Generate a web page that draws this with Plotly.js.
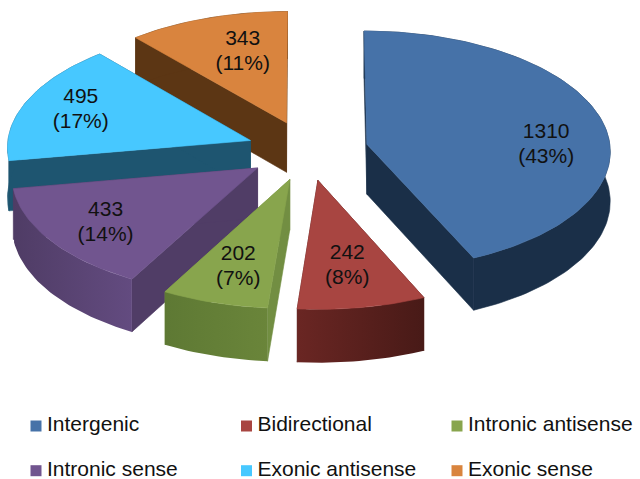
<!DOCTYPE html>
<html>
<head>
<meta charset="utf-8">
<script src="https://cdn.plot.ly/plotly-3.0.1.min.js"></script>
<style>html,body{margin:0;padding:0;background:#fff}#chart{width:640px;height:479px}</style>
</head>
<body>
<div id="chart"></div>
<script>
// Transcript classes and their counts
const categories = ['Intergenic', 'Bidirectional', 'Intronic antisense', 'Intronic sense', 'Exonic antisense', 'Exonic sense'];
const counts = [1310, 242, 202, 433, 495, 343];
const percents = [43, 8, 7, 14, 17, 11];

// Face colours of each slice
const topColors = ['#4672A8', '#A84541', '#88A54D', '#71558F', '#47C8FF', '#D9843E'];
const radialColors = ['#1A2F48', '#4F1C19', '#728E42', '#503D66', '#1E5570', '#5C3614'];
const arcLeftColors = ['#1A2F48', '#6A2623', '#5E7934', '#4F3C65', '#1E5570', '#5C3614'];
const arcRightColors = ['#1A2F48', '#481A17', '#6A853A', '#634B80', '#1E5570', '#5C3614'];

// Back-to-front painting order (slice indices)
const paintOrder = [5, 0, 4, 3, 2, 1];

// Tilted-disc projection, in plot units
const view = {cx: 307.5, cy: 150.5, rx: 243.5, ry: 119.5, depth: 50, persp: 0.05, explode: 0.25, labelAt: 0.72, labelLine: 12.5};
// Hand placement of the value labels along each slice
const labelShift = [[10, 19], [-2, -4], [2, 0], [-4, 3], [-8, -1.5], [14, 6]];

function project(X, Y, z) {
  const w = 1 / (1 + view.persp * Y);
  return [view.cx + view.rx * X * w, view.cy - view.ry * Y * w + view.depth * z * w];
}

const total = counts.reduce((a, b) => a + b, 0);
let running = 0;
const slices = counts.map(v => {
  const start = running / total * 2 * Math.PI;
  running += v;
  const end = running / total * 2 * Math.PI;
  const mid = (start + end) / 2;
  return {start, end, mid, ax: view.explode * Math.sin(mid), ay: view.explode * Math.cos(mid)};
});

function rimAngles(s) {
  const n = Math.max(12, Math.ceil((s.end - s.start) * 40));
  return Array.from({length: n + 1}, (_, i) => s.start + (s.end - s.start) * i / n);
}
const rimPoint = (s, a, z) => project(s.ax + Math.sin(a), s.ay + Math.cos(a), z);
const apexPoint = (s, z) => project(s.ax, s.ay, z);

function polygon(points, color, extra) {
  return Object.assign({
    type: 'scatter', mode: 'lines', fill: 'toself',
    x: points.map(p => p[0]), y: points.map(p => p[1]),
    fillcolor: color, line: {color: color, width: 0.6},
    hoverinfo: 'skip', showlegend: false
  }, extra || {});
}

const traces = [];
paintOrder.forEach(i => {
  const s = slices[i];
  const angles = rimAngles(s);
  // Cut faces
  [s.start, s.end].forEach(a => {
    traces.push(polygon([apexPoint(s, 0), rimPoint(s, a, 0), rimPoint(s, a, 1), apexPoint(s, 1), apexPoint(s, 0)], radialColors[i]));
  });
  // Outer wall
  const wall = angles.map(a => rimPoint(s, a, 0)).concat(angles.slice().reverse().map(a => rimPoint(s, a, 1)));
  wall.push(wall[0]);
  const left = arcLeftColors[i], right = arcRightColors[i];
  traces.push(polygon(wall, left, left === right ? {} : {
    fillgradient: {type: 'horizontal', colorscale: [[0, left], [1, right]]},
    line: {width: 0}
  }));
  // Top face
  const top = [apexPoint(s, 0)].concat(angles.map(a => rimPoint(s, a, 0)));
  top.push(top[0]);
  traces.push(polygon(top, topColors[i]));
});

// Value labels on the slices: count above, share below
const labelPts = slices.map((s, i) => {
  const p = project(s.ax + view.labelAt * Math.sin(s.mid), s.ay + view.labelAt * Math.cos(s.mid), 0);
  return [p[0] + labelShift[i][0], p[1] + labelShift[i][1]];
});
const labelFont = {family: '"Liberation Sans", Arial, sans-serif', size: 21, color: '#111'};
[[counts.map(String), -view.labelLine], [percents.map(p => '(' + p + '%)'), view.labelLine]].forEach(([text, dy]) => {
  traces.push({
    type: 'scatter', mode: 'text',
    x: labelPts.map(p => p[0]), y: labelPts.map(p => p[1] + dy),
    text: text, textposition: 'middle center', textfont: labelFont,
    hoverinfo: 'skip', showlegend: false
  });
});

// Key below the pie: three columns, two rows
const keyX = [36, 246.5, 457];
const keyY = [426, 470.7];
const keyTextGap = 11;
categories.forEach((name, i) => {
  const x = keyX[i % 3], y = keyY[Math.floor(i / 3)];
  traces.push({
    type: 'scatter', mode: 'markers',
    x: [x], y: [y],
    marker: {symbol: 'square', size: 11, color: topColors[i]},
    cliponaxis: false, hoverinfo: 'skip', showlegend: false
  });
  traces.push({
    type: 'scatter', mode: 'text',
    x: [x + keyTextGap], y: [y],
    text: [name], textposition: 'middle right',
    textfont: {family: '"Liberation Sans", Arial, sans-serif', size: 21, color: '#111'},
    cliponaxis: false, hoverinfo: 'skip', showlegend: false
  });
});

const layout = {
  width: 640, height: 479,
  margin: {l: 0, r: 0, t: 0, b: 0},
  paper_bgcolor: '#fff', plot_bgcolor: '#fff',
  showlegend: false,
  xaxis: {range: [0, 640], visible: false, fixedrange: true},
  yaxis: {range: [479, 0], visible: false, fixedrange: true}
};
Plotly.newPlot('chart', traces, layout, {displayModeBar: false, staticPlot: true});
</script>
</body>
</html>
